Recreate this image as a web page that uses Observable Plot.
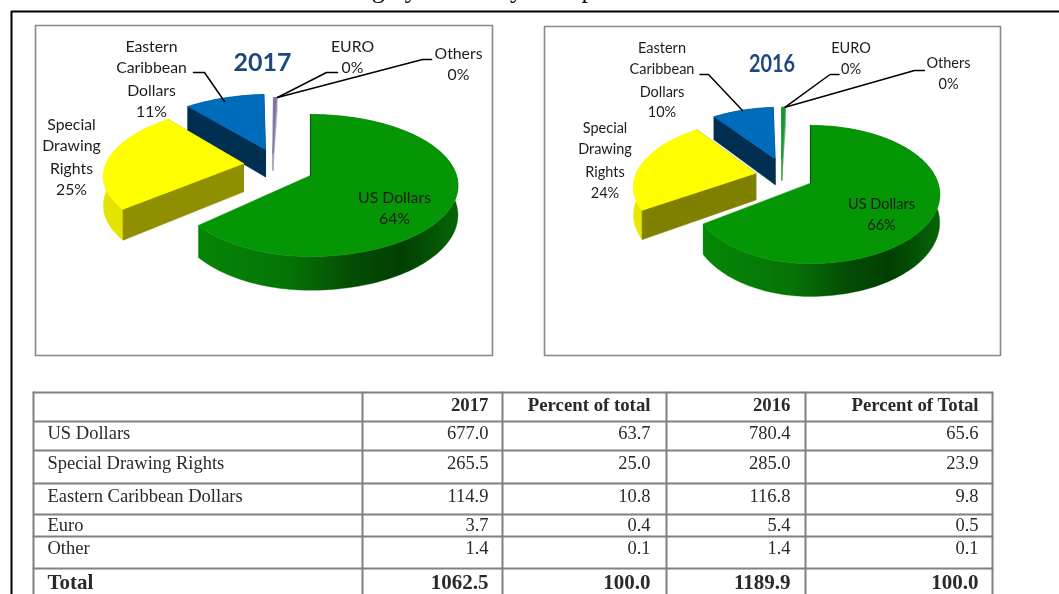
<!DOCTYPE html>
<html>
<head>
<meta charset="utf-8">
<script src="https://cdn.jsdelivr.net/npm/d3@7"></script>
<script src="https://cdn.jsdelivr.net/npm/@observablehq/plot@0.6"></script>
<style>
html,body{margin:0;padding:0;background:#fff;overflow:hidden}
svg{display:block;filter:blur(0.35px)}
</style>
</head>
<body>
<div id="chart"></div>
<script>
// ---------- data ----------
const categories = ["US Dollars", "Special Drawing Rights", "Eastern Caribbean Dollars", "Euro", "Other"];
const value2017 = [677.0, 265.5, 114.9, 3.7, 1.4];
const percent2017 = [63.7, 25.0, 10.8, 0.4, 0.1];
const value2016 = [780.4, 285.0, 116.8, 5.4, 1.4];
const percent2016 = [65.6, 23.9, 9.8, 0.5, 0.1];
const totals = ["1062.5", "100.0", "1189.9", "100.0"];
const headers = ["2017", "Percent of total", "2016", "Percent of Total"];
const pieLabels2017 = ["64%", "25%", "11%", "0%", "0%"];
const pieLabels2016 = ["66%", "24%", "10%", "0%", "0%"];
const titleText = "Chart 6: Internal Debt Outstanding by Currency Composition 2017";

// ---------- layout ----------
const W = 1059, H = 594;
const layouts = [
  {
    year: "2017", pct: percent2017, labels: pieLabels2017, labelSize: 15.8, gradId: "wall2017",
    cx: 310, cy: 175, R: 146, H: 69.6, k: 0.141, D: 29,
    off: [[0, 0], [-0.47, 0.176], [-0.325, 0.394], [-0.27, 0.33], [-0.27, 0.33]],
    radius: [1, 0.965, 1, 1, 1],
    top: ["#059605", "#ffff00", "#006cbc", "#8470a8", "#c2d2ea"],
    face: ["#0a5a0a", "#8f8f00", "#002f52", "#a59cb6", "#ccd6e6"],
    wall: "#e4e400", sliverDepth: 0.62,
    box: [35, 25, 492, 355],
    title: [262, 62],
    eastern: [151, [46, 67, 90, 111]], special: [71, [124, 145, 168, 189]],
    euro: [352, [46, 67]], others: [458, [53, 74]], us: [394, [197, 218]],
    leaders: [
      [[193, 72], [204, 72], [224, 101]],
      [[337, 72], [326, 72], [277, 97]],
      [[431, 59], [422, 59], [277, 97]]
    ]
  },
  {
    year: "2016", pct: percent2016, labels: pieLabels2016, labelSize: 14.5, gradId: "wall2016",
    cx: 810, cy: 182.7, R: 127.5, H: 67.2, k: 0.164, D: 27.5,
    off: [[0, 0], [-0.439, 0.153], [-0.295, 0.386], [-0.24, 0.389], [-0.24, 0.389]],
    radius: [1, 0.96, 1, 1, 1],
    top: ["#059605", "#ffff00", "#006cbc", "#0f9a2c", "#7fc48a"],
    face: ["#0a5a0a", "#808000", "#002f52", "#3aa04e", "#a8d4ae"],
    wall: "#e8e800", sliverDepth: 0.85,
    box: [544, 26, 1000, 355],
    title: [771.5, 63],
    eastern: [661.5, [48, 69, 92, 112]], special: [604.5, [128, 149, 172, 193]],
    euro: [850.5, [48, 69]], others: [948, [63, 84]], us: [881, [204, 225]],
    leaders: [
      [[699.5, 74], [708, 74], [742, 110]],
      [[838.5, 74], [829.5, 74], [784.7, 106.7]],
      [[924, 70], [914, 70], [784.7, 106.7]]
    ]
  }
];
const blueTrim = 1.5 * Math.PI / 180;

const wallStops = [[-0.8, "#058605"], [-0.16, "#067406"], [0.29, "#044c04"], [0.63, "#013f01"], [1, "#066406"]];

const marks = [];
const poly = (pts, fill, sw = 0.6) =>
  Plot.line([...pts, pts[0]], {x: d => d[0], y: d => d[1], fill, stroke: fill, strokeWidth: sw, curve: "linear"});
const lineMark = (pts, stroke, strokeWidth) =>
  Plot.line(pts, {x: d => d[0], y: d => d[1], stroke, strokeWidth, curve: "linear", fill: "none"});
const label = (x, y, text, o = {}) =>
  Plot.text([text], {x: () => x, y: () => y, text: d => d, textAnchor: "middle", lineAnchor: "middle",
    fontFamily: "Lato", fontSize: 14.5, fill: "#1c1c1c", ...o});

// wall gradients, in the plot's pixel space
marks.push(() => {
  const defs = d3.create("svg:defs");
  for (const c of layouts) {
    const g = defs.append("linearGradient").attr("id", c.gradId).attr("gradientUnits", "userSpaceOnUse")
      .attr("x1", c.cx - c.R).attr("x2", c.cx + c.R).attr("y1", 0).attr("y2", 0);
    for (const [u, col] of wallStops) g.append("stop").attr("offset", (u + 1) / 2).attr("stop-color", col);
  }
  return defs.node();
});

// boxes and outer frame
marks.push(lineMark([[W, 11], [11, 11], [11, H]], "#000", 2));
for (const c of layouts) {
  const [a, b, e, f] = c.box;
  marks.push(lineMark([[a, b], [e, b], [e, f], [a, f], [a, b]], "#888", 1.6));
}

for (const c of layouts) {
  const proj = (u, v, d, squash) => {
    const s = 1 / (1 + c.k * v);
    const uu = squash && u < 0 ? u * 0.92 : u;
    return [c.cx + c.R * uu * s, c.cy - c.H * v * s + d * c.D * s];
  };
  const total = d3.sum(c.pct);
  let acc = 0;
  const slices = c.pct.map((p, i) => {
    const a0 = acc / total * 2 * Math.PI;
    acc += p;
    return {i, a0, a1: acc / total * 2 * Math.PI - (i === 2 ? blueTrim : 0)};
  });
  for (const sl of slices.slice().reverse()) {
    const [ou, ov] = c.off[sl.i];
    const r = c.radius[sl.i];
    const squash = sl.i === 0;
    const depth = sl.i >= 3 ? c.sliverDepth : 1;
    const n = Math.max(2, Math.round((sl.a1 - sl.a0) / (Math.PI / 120)));
    const th = d3.range(n + 1).map(j => sl.a0 + (sl.a1 - sl.a0) * j / n);
    const pt = (t, d) => proj(ou + r * Math.sin(t), ov + r * Math.cos(t), d, squash);
    const apex = d => proj(ou, ov, d, squash);
    // outer wall
    const wallFill = sl.i === 0 ? `url(#${c.gradId})` : sl.i === 1 ? c.wall : c.face[sl.i];
    marks.push(poly([...th.map(t => pt(t, 0)), ...th.slice().reverse().map(t => pt(t, depth))], wallFill, 0.3));
    // cut faces
    if (sl.i !== 0) {
      marks.push(poly([apex(0), pt(sl.a1, 0), pt(sl.a1, depth), apex(depth)], c.face[sl.i], sl.i >= 3 ? 0.5 : 0.6));
      marks.push(poly([apex(0), pt(sl.a0, 0), pt(sl.a0, depth), apex(depth)], c.face[sl.i], sl.i >= 3 ? 0.5 : 0.6));
    }
    // top surface
    marks.push(poly([apex(0), ...th.map(t => pt(t, 0))], c.top[sl.i], sl.i >= 3 ? 0.7 : 0.6));
    if (sl.i === 0) marks.push(lineMark([apex(0), pt(0, 0)], "#0a5a0a", 1.2));
  }
  // leaders
  for (const l of c.leaders) marks.push(lineMark(l, "#000", 1.5));
  // labels
  const lines = (x, ys, texts) => texts.forEach((t, i) => marks.push(label(x, ys[i], t, {fontSize: c.labelSize})));
  lines(c.eastern[0], c.eastern[1], ["Eastern", "Caribbean", "Dollars", c.labels[2]]);
  lines(c.special[0], c.special[1], ["Special", "Drawing", "Rights", c.labels[1]]);
  lines(c.euro[0], c.euro[1], ["EURO", c.labels[3]]);
  lines(c.others[0], c.others[1], ["Others", c.labels[4]]);
  lines(c.us[0], c.us[1], ["US Dollars", c.labels[0]]);
  marks.push(label(c.title[0], c.title[1], c.year, {fontWeight: 700, fontSize: 25, fill: "#1f497d"}));
}

// top clipped heading
marks.push(Plot.text([titleText], {x: () => 15, y: () => -3.5, text: d => d, textAnchor: "start", lineAnchor: "bottom",
  fontFamily: "Liberation Serif", fontSize: 26.5, fill: "#111"}));

// table
const colX = [33, 362, 502, 666, 805, 992];
const rowY = [392, 421, 450, 483, 514, 536, 568];
const rowMid = [404, 433, 463, 496, 525, 548, 582];
const numX = [488, 650, 790, 978];
const grid = "#808080";
for (const y of rowY) marks.push(lineMark([[colX[0], y], [colX[5], y]], grid, 2));
for (const x of colX) marks.push(lineMark([[x, rowY[0]], [x, H]], grid, 2));
const serif = "Liberation Serif";
const tText = (rows, o) => Plot.text(rows, {x: "x", y: "y", text: "t", lineAnchor: "middle", fontFamily: serif, fill: "#2a2a2a", ...o});
marks.push(tText(headers.map((t, i) => ({t, x: numX[i], y: rowMid[0]})), {textAnchor: "end", fontWeight: 700, fontSize: 18.8}));
marks.push(tText(categories.map((t, i) => ({t, x: 47, y: rowMid[i + 1]})), {textAnchor: "start", fontSize: 18.5}));
const columns = [value2017, percent2017, value2016, percent2016];
const cells = columns.flatMap((col, j) => col.map((v, i) => ({t: v.toFixed(1), x: numX[j], y: rowMid[i + 1]})));
marks.push(tText(cells, {textAnchor: "end", fontSize: 18.5}));
marks.push(tText([{t: "Total", x: 47, y: rowMid[6]}], {textAnchor: "start", fontWeight: 700, fontSize: 21}));
marks.push(tText(totals.map((t, i) => ({t, x: numX[i], y: rowMid[6]})), {textAnchor: "end", fontWeight: 700, fontSize: 21}));

const svg = Plot.plot({
  width: W, height: H,
  margin: 0,
  x: {domain: [0, W], range: [0, W], axis: null},
  y: {domain: [0, H], range: [0, H], axis: null},
  style: {background: "#fff"},
  marks
});
// compress the 2016 heading as in the picture
svg.querySelectorAll("text").forEach(t => {
  if (t.textContent === "2016" && t.closest("g").getAttribute("font-family") === "Lato") {
    t.setAttribute("textLength", "46");
    t.setAttribute("lengthAdjust", "spacingAndGlyphs");
  }
});
document.getElementById("chart").appendChild(svg);
</script>
</body>
</html>
